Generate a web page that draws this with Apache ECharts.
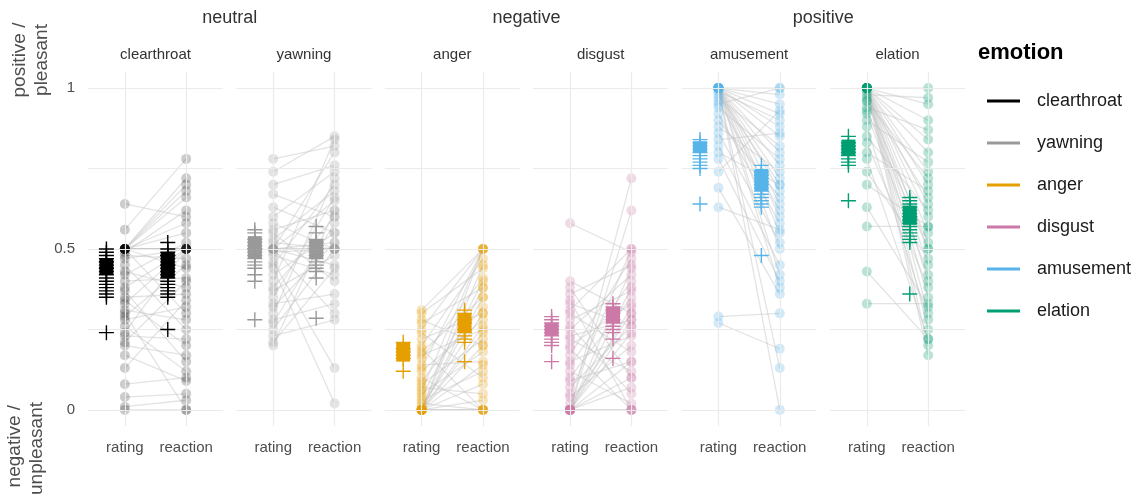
<!DOCTYPE html>
<html>
<head>
<meta charset="utf-8">
<script src="https://cdn.jsdelivr.net/npm/echarts@6/dist/echarts.min.js"></script>
<style>
  html, body { margin: 0; padding: 0; background: #ffffff; }
  #chart { width: 1134px; height: 500px; }
</style>
</head>
<body>
<div id="chart"></div>
<script>
// ---- data -------------------------------------------------------------
const emotions = ['clearthroat', 'yawning', 'anger', 'disgust', 'amusement', 'elation'];
const valenceGroups = ['neutral', 'negative', 'positive'];
const conditions = ['rating', 'reaction'];
const yTickLabels = ['0', '0.5', '1'];

// per-participant paired values (rating -> reaction)
const clearthroatRating = [0.64,0.56,0.50,0.50,0.50,0.50,0.50,0.50,0.50,0.50,0.50,0.50,0.50,0.50,0.50,0.49,0.48,0.47,0.45,0.43,0.42,0.40,0.38,0.37,0.35,0.34,0.33,0.31,0.30,0.29,0.28,0.26,0.24,0.23,0.21,0.20,0.17,0.13,0.08,0.04,0.01,0.00];
const clearthroatReaction = [0.60,0.78,0.72,0.70,0.68,0.66,0.50,0.50,0.50,0.55,0.58,0.44,0.30,0.50,0.50,0.62,0.47,0.50,0.25,0.38,0.52,0.41,0.50,0.15,0.36,0.20,0.50,0.28,0.00,0.45,0.32,0.12,0.50,0.22,0.40,0.17,0.09,0.34,0.10,0.05,0.03,0.00];

const yawningRating = [0.78,0.74,0.70,0.67,0.63,0.60,0.58,0.56,0.55,0.53,0.52,0.50,0.50,0.50,0.50,0.50,0.50,0.50,0.49,0.48,0.46,0.45,0.44,0.42,0.40,0.38,0.37,0.35,0.33,0.32,0.30,0.28,0.27,0.25,0.23,0.21,0.20];
const yawningReaction = [0.82,0.85,0.76,0.60,0.55,0.74,0.50,0.62,0.40,0.68,0.50,0.50,0.50,0.80,0.45,0.52,0.30,0.65,0.50,0.42,0.13,0.70,0.02,0.55,0.84,0.60,0.48,0.66,0.36,0.52,0.72,0.33,0.58,0.50,0.28,0.44,0.62];

const angerRating = [0.31,0.30,0.28,0.27,0.25,0.24,0.22,0.20,0.19,0.18,0.17,0.16,0.14,0.13,0.12,0.10,0.09,0.08,0.07,0.06,0.05,0.04,0.03,0.02,0.01,0.00,0.00,0.00,0.00,0.00,0.00,0.00,0.00,0.00,0.00,0.00,0.00,0.00];
const angerReaction = [0.50,0.44,0.20,0.38,0.50,0.10,0.30,0.47,0.00,0.35,0.25,0.41,0.15,0.50,0.28,0.00,0.32,0.22,0.05,0.50,0.18,0.40,0.12,0.00,0.30,0.50,0.45,0.35,0.26,0.20,0.08,0.03,0.00,0.00,0.14,0.38,0.00,0.24];

const disgustRating = [0.58,0.40,0.38,0.36,0.34,0.33,0.31,0.30,0.28,0.26,0.25,0.23,0.22,0.20,0.19,0.17,0.15,0.14,0.12,0.10,0.09,0.07,0.05,0.04,0.02,0.00,0.00,0.00,0.00,0.00,0.00,0.00,0.00,0.00,0.00,0.00,0.00];
const disgustReaction = [0.49,0.30,0.10,0.45,0.00,0.26,0.50,0.18,0.37,0.05,0.42,0.28,0.12,0.33,0.00,0.47,0.23,0.40,0.02,0.35,0.15,0.26,0.50,0.20,0.30,0.72,0.62,0.00,0.07,0.44,0.32,0.28,0.15,0.00,0.38,0.10,0.24];

const amusementRating = [1.00,1.00,1.00,1.00,1.00,1.00,1.00,1.00,1.00,1.00,1.00,1.00,1.00,1.00,1.00,1.00,1.00,1.00,0.99,0.98,0.97,0.96,0.95,0.94,0.92,0.90,0.88,0.86,0.84,0.82,0.80,0.78,0.74,0.69,0.63,0.29,0.27];
const amusementReaction = [1.00,0.98,0.95,0.92,0.88,0.85,0.80,0.76,0.72,0.68,0.64,0.60,0.55,0.50,0.42,0.38,0.00,0.13,0.90,0.70,0.82,0.62,1.00,0.78,0.58,0.66,0.74,0.52,0.86,0.45,0.70,0.40,0.93,0.36,0.56,0.30,0.19];

const elationRating = [1.00,1.00,1.00,1.00,1.00,1.00,1.00,1.00,1.00,1.00,1.00,1.00,1.00,1.00,1.00,1.00,1.00,0.98,0.97,0.96,0.94,0.92,0.90,0.88,0.85,0.83,0.80,0.78,0.74,0.70,0.63,0.57,0.43,0.33,0.99,0.96,0.93];
const elationReaction = [1.00,0.95,0.90,0.84,0.80,0.74,0.70,0.64,0.60,0.55,0.50,0.45,0.40,0.35,0.30,0.25,0.20,0.97,0.66,0.52,0.87,0.42,0.77,0.28,0.62,0.38,0.68,0.22,0.47,0.57,0.32,0.57,0.22,0.33,0.17,0.72,0.50];

// per-stimulus means ("+") and the central range (filled box)
const clearthroatRatingItems = [0.50,0.49,0.48,0.47,0.46,0.46,0.45,0.44,0.44,0.43,0.42,0.41,0.40,0.39,0.38,0.37,0.36,0.35,0.24];
const clearthroatReactionItems = [0.52,0.50,0.49,0.48,0.48,0.47,0.46,0.45,0.45,0.44,0.43,0.42,0.41,0.40,0.39,0.38,0.37,0.36,0.35,0.25];
const clearthroatRatingBox = [0.42, 0.47];
const clearthroatReactionBox = [0.41, 0.49];

const yawningRatingItems = [0.56,0.55,0.53,0.52,0.51,0.50,0.50,0.49,0.48,0.47,0.46,0.45,0.44,0.42,0.40,0.28];
const yawningReactionItems = [0.57,0.55,0.53,0.52,0.51,0.50,0.50,0.49,0.48,0.47,0.46,0.45,0.44,0.43,0.41,0.285];
const yawningRatingBox = [0.47, 0.54];
const yawningReactionBox = [0.47, 0.53];

const angerRatingItems = [0.21,0.19,0.18,0.17,0.16,0.12];
const angerReactionItems = [0.31,0.30,0.28,0.27,0.25,0.24,0.23,0.22,0.21,0.15];
const angerRatingBox = [0.15, 0.21];
const angerReactionBox = [0.24, 0.30];

const disgustRatingItems = [0.29,0.28,0.27,0.26,0.25,0.24,0.23,0.22,0.21,0.20,0.15];
const disgustReactionItems = [0.33,0.32,0.31,0.30,0.28,0.27,0.26,0.25,0.24,0.22,0.16];
const disgustRatingBox = [0.23, 0.27];
const disgustReactionBox = [0.27, 0.32];

const amusementRatingItems = [0.84,0.83,0.82,0.81,0.80,0.79,0.78,0.77,0.76,0.75,0.64];
const amusementReactionItems = [0.76,0.74,0.73,0.72,0.71,0.70,0.69,0.68,0.67,0.66,0.65,0.64,0.63,0.48];
const amusementRatingBox = [0.80, 0.835];
const amusementReactionBox = [0.68, 0.75];

const elationRatingItems = [0.85,0.83,0.82,0.81,0.80,0.79,0.78,0.77,0.76,0.65];
const elationReactionItems = [0.66,0.65,0.64,0.63,0.62,0.61,0.60,0.59,0.58,0.57,0.56,0.55,0.54,0.53,0.52,0.36];
const elationRatingBox = [0.79, 0.84];
const elationReactionBox = [0.575, 0.635];

// ---- assembly -----------------------------------------------------------
const emotionData = {
  clearthroat: { rating: clearthroatRating, reaction: clearthroatReaction, ratingItems: clearthroatRatingItems, reactionItems: clearthroatReactionItems, ratingBox: clearthroatRatingBox, reactionBox: clearthroatReactionBox },
  yawning: { rating: yawningRating, reaction: yawningReaction, ratingItems: yawningRatingItems, reactionItems: yawningReactionItems, ratingBox: yawningRatingBox, reactionBox: yawningReactionBox },
  anger: { rating: angerRating, reaction: angerReaction, ratingItems: angerRatingItems, reactionItems: angerReactionItems, ratingBox: angerRatingBox, reactionBox: angerReactionBox },
  disgust: { rating: disgustRating, reaction: disgustReaction, ratingItems: disgustRatingItems, reactionItems: disgustReactionItems, ratingBox: disgustRatingBox, reactionBox: disgustReactionBox },
  amusement: { rating: amusementRating, reaction: amusementReaction, ratingItems: amusementRatingItems, reactionItems: amusementReactionItems, ratingBox: amusementRatingBox, reactionBox: amusementReactionBox },
  elation: { rating: elationRating, reaction: elationReaction, ratingItems: elationRatingItems, reactionItems: elationReactionItems, ratingBox: elationRatingBox, reactionBox: elationReactionBox }
};

const palette = {
  clearthroat: '#000000', yawning: '#999999', anger: '#E69F00',
  disgust: '#CC79A7', amusement: '#56B4E9', elation: '#009E73'
};

const FONT = '"Liberation Sans", Arial, Helvetica, sans-serif';
const PANEL_X0 = 88, PANEL_STEP = 148.4, PANEL_W = 135, PANEL_TOP = 72, PANEL_H = 354;
const SUMMARY_SHIFT = 0.3;   // summary marks sit left of each condition
const panelLeft = i => PANEL_X0 + i * PANEL_STEP;

const plusPath = 'path://M6.35,0h1.3v6.35h6.35v1.3h-6.35v6.35h-1.3v-6.35h-6.35v-1.3h6.35z';

const grid = [], xAxis = [], yAxis = [], series = [];

emotions.forEach((emo, i) => {
  const d = emotionData[emo];
  const col = palette[emo];
  grid.push({ left: panelLeft(i), top: PANEL_TOP, width: PANEL_W, height: PANEL_H, containLabel: false });
  xAxis.push({
    type: 'value', gridIndex: i, min: 0.4, max: 2.6, interval: 0.2,
    axisLine: { show: false }, axisTick: { show: false }, splitLine: { show: false },
    axisLabel: {
      show: true, margin: 14, fontSize: 15, color: '#4d4d4d', fontFamily: FONT,
      showMinLabel: false, showMaxLabel: false,
      formatter: v => Math.abs(v - 1) < 1e-6 ? conditions[0] : (Math.abs(v - 2) < 1e-6 ? conditions[1] : '')
    }
  });
  yAxis.push({
    type: 'value', gridIndex: i, min: -0.05, max: 1.05, interval: 0.05,
    axisLine: { show: false }, axisTick: { show: false }, splitLine: { show: false },
    axisLabel: {
      show: i === 0, margin: 13, fontSize: 15, color: '#4d4d4d', fontFamily: FONT,
      formatter: v => {
        if (Math.abs(v) < 1e-6) return yTickLabels[0];
        if (Math.abs(v - 0.5) < 1e-6) return yTickLabels[1];
        if (Math.abs(v - 1) < 1e-6) return yTickLabels[2];
        return '';
      }
    }
  });

  // panel grid lines
  series.push({
    type: 'scatter', xAxisIndex: i, yAxisIndex: i, data: [], silent: true, z: 0,
    markLine: {
      silent: true, symbol: ['none', 'none'], animation: false,
      label: { show: false },
      lineStyle: { color: '#ebebeb', width: 1.2, type: 'solid' },
      emphasis: { disabled: true },
      data: [{ xAxis: 1 }, { xAxis: 2 }, { yAxis: 0 }, { yAxis: 0.25 }, { yAxis: 0.5 }, { yAxis: 0.75 }, { yAxis: 1 }]
    }
  });

  // participant lines rating -> reaction
  const n = Math.min(d.rating.length, d.reaction.length);
  const pairs = [];
  for (let k = 0; k < n; k++) pairs.push([d.rating[k], d.reaction[k]]);
  series.push({
    type: 'custom', xAxisIndex: i, yAxisIndex: i, silent: true, z: 2,
    data: pairs,
    renderItem: (params, api) => {
      const a = api.coord([1, api.value(0)]);
      const b = api.coord([2, api.value(1)]);
      return {
        type: 'line',
        shape: { x1: a[0], y1: a[1], x2: b[0], y2: b[1] },
        style: { stroke: '#c2c2c2', opacity: 0.45, lineWidth: 1.3 }
      };
    }
  });

  // participant points
  const pts = d.rating.map(v => [1, v]).concat(d.reaction.map(v => [2, v]));
  series.push({
    type: 'scatter', xAxisIndex: i, yAxisIndex: i, silent: true, z: 3,
    symbol: 'circle', symbolSize: 10,
    itemStyle: { color: col, opacity: emo === 'clearthroat' ? 0.2 : 0.28 },
    data: pts
  });

  // central range boxes
  series.push({
    type: 'custom', xAxisIndex: i, yAxisIndex: i, silent: true, z: 4,
    data: [[1 - SUMMARY_SHIFT, d.ratingBox[0], d.ratingBox[1]], [2 - SUMMARY_SHIFT, d.reactionBox[0], d.reactionBox[1]]],
    renderItem: (params, api) => {
      const top = api.coord([api.value(0), api.value(2)]);
      const bot = api.coord([api.value(0), api.value(1)]);
      return {
        type: 'rect',
        shape: { x: top[0] - 7, y: top[1], width: 14, height: bot[1] - top[1] },
        style: { fill: col }
      };
    }
  });

  // stimulus means
  const plus = d.ratingItems.map(v => [1 - SUMMARY_SHIFT, v]).concat(d.reactionItems.map(v => [2 - SUMMARY_SHIFT, v]));
  series.push({
    name: emo, type: 'scatter', xAxisIndex: i, yAxisIndex: i, silent: true, z: 5,
    symbol: plusPath, symbolSize: 15,
    itemStyle: { color: col, opacity: 1 },
    data: plus
  });
});

// facet titles and axis title
const graphic = [];
valenceGroups.forEach((g, j) => {
  const cx = (panelLeft(2 * j) + panelLeft(2 * j + 1) + PANEL_W) / 2;
  graphic.push({ type: 'text', x: cx, y: 18, style: { text: g, fontSize: 18, fill: '#333333', fontFamily: FONT, textAlign: 'center', textVerticalAlign: 'middle' } });
});
emotions.forEach((emo, i) => {
  graphic.push({ type: 'text', x: panelLeft(i) + PANEL_W / 2, y: 55, style: { text: emo, fontSize: 15, fill: '#333333', fontFamily: FONT, textAlign: 'center', textVerticalAlign: 'middle' } });
});
graphic.push({ type: 'text', x: 20, y: 60, rotation: Math.PI / 2, style: { text: 'positive /', fontSize: 19, fill: '#4d4d4d', fontFamily: FONT, textAlign: 'center', textVerticalAlign: 'middle' } });
graphic.push({ type: 'text', x: 42, y: 60, rotation: Math.PI / 2, style: { text: 'pleasant', fontSize: 19, fill: '#4d4d4d', fontFamily: FONT, textAlign: 'center', textVerticalAlign: 'middle' } });
graphic.push({ type: 'text', x: 15, y: 405, rotation: Math.PI / 2, style: { text: 'negative /', fontSize: 19, fill: '#4d4d4d', fontFamily: FONT, textAlign: 'right', textVerticalAlign: 'middle' } });
graphic.push({ type: 'text', x: 37, y: 402, rotation: Math.PI / 2, style: { text: 'unpleasant', fontSize: 19, fill: '#4d4d4d', fontFamily: FONT, textAlign: 'right', textVerticalAlign: 'middle' } });
graphic.push({ type: 'text', x: 978, y: 53, style: { text: 'emotion', fontSize: 22, fontWeight: 'bold', fill: '#000000', fontFamily: FONT, textAlign: 'left', textVerticalAlign: 'middle' } });

const chart = echarts.init(document.getElementById('chart'), null, { renderer: 'canvas' });
chart.setOption({
  animation: false,
  backgroundColor: '#ffffff',
  grid, xAxis, yAxis, series, graphic,
  legend: {
    orient: 'vertical', left: 982, top: 86,
    icon: 'rect', itemWidth: 33, itemHeight: 3, itemGap: 22,
    selectedMode: false,
    textStyle: { fontSize: 18, color: '#1a1a1a', fontFamily: FONT, lineHeight: 20, padding: [0, 0, 0, 12] },
    data: emotions
  }
});
</script>
</body>
</html>
